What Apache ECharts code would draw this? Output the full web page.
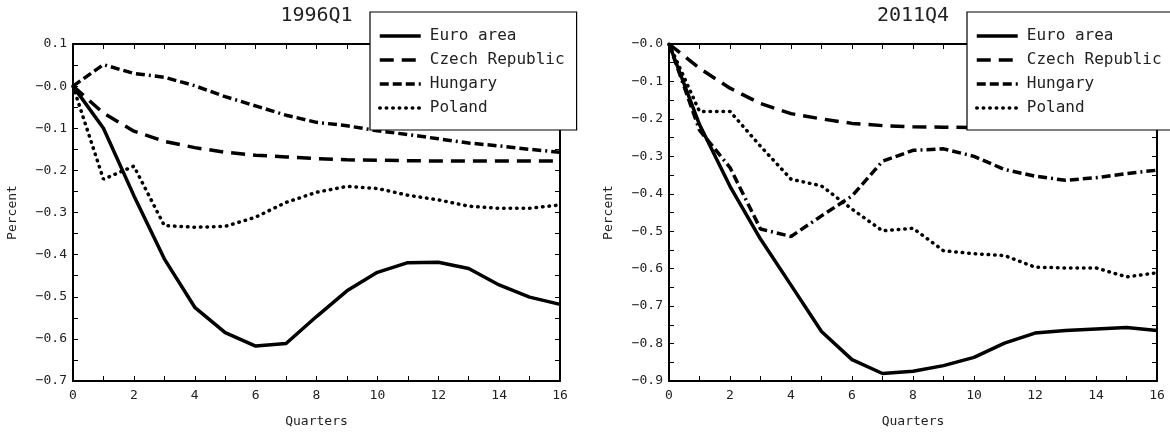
<!DOCTYPE html>
<html>
<head>
<meta charset="utf-8">
<script src="https://cdn.jsdelivr.net/npm/echarts@6/dist/echarts.min.js"></script>
<style>
html,body{margin:0;padding:0;background:#fff;}
#chart{width:1170px;height:433px;}
</style>
</head>
<body>
<div id="chart"></div>
<script>
// ---- Data ----
const quarters = [0,1,2,3,4,5,6,7,8,9,10,11,12,13,14,15,16];
const seriesNames = ['Euro area','Czech Republic','Hungary','Poland'];
const panelTitles = ['1996Q1','2011Q4'];

const euro1996   = [0,-0.10,-0.26,-0.41,-0.525,-0.585,-0.617,-0.611,-0.547,-0.486,-0.442,-0.419,-0.418,-0.433,-0.472,-0.501,-0.518];
const czech1996  = [0,-0.064,-0.107,-0.131,-0.146,-0.157,-0.164,-0.168,-0.172,-0.175,-0.176,-0.177,-0.178,-0.178,-0.178,-0.178,-0.178];
const hungary1996= [0,0.051,0.030,0.021,0.001,-0.025,-0.047,-0.069,-0.086,-0.094,-0.106,-0.115,-0.125,-0.135,-0.142,-0.150,-0.157];
const poland1996 = [0,-0.221,-0.19,-0.331,-0.335,-0.333,-0.311,-0.276,-0.252,-0.238,-0.243,-0.259,-0.270,-0.285,-0.290,-0.290,-0.282];

const euro2011   = [0,-0.215,-0.38,-0.521,-0.644,-0.768,-0.843,-0.880,-0.874,-0.859,-0.837,-0.799,-0.772,-0.765,-0.761,-0.757,-0.765];
const czech2011  = [0,-0.065,-0.118,-0.159,-0.186,-0.200,-0.212,-0.218,-0.221,-0.222,-0.223,-0.223,-0.223,-0.223,-0.223,-0.223,-0.223];
const hungary2011= [0,-0.23,-0.33,-0.494,-0.514,-0.459,-0.406,-0.313,-0.284,-0.280,-0.300,-0.335,-0.353,-0.364,-0.357,-0.346,-0.337];
const poland2011 = [0,-0.18,-0.18,-0.273,-0.361,-0.379,-0.441,-0.499,-0.492,-0.552,-0.560,-0.565,-0.596,-0.598,-0.598,-0.622,-0.611];

const yRanges = [[-0.7,0.1],[-0.9,0]];

// ---- Styling ----
const FONT = 'DejaVu Sans Mono';
const TXT = '#222';
const lineTypes = [
  {type:'solid', cap:'butt'},
  {type:[14,8], cap:'butt'},
  {type:[9,4,9,4,9,4,2,4], cap:'butt'},
  {type:[0.5,6], cap:'round'}
];
const panels = [
  {grid:{left:73, top:44, width:487, height:339}, data:[euro1996,czech1996,hungary1996,poland1996], center:316.5, legendLeft:370},
  {grid:{left:669, top:44, width:488, height:339}, data:[euro2011,czech2011,hungary2011,poland2011], center:913, legendLeft:967}
];

function fmtY(v){
  const s = Math.abs(v).toFixed(1);
  return (v < 0.05 ? '\u2212' : '') + s;
}

const tickCommon = {
  axisLine:{show:true, onZero:false, lineStyle:{color:'#000', width:2}},
  axisTick:{show:true, inside:true, length:5, lineStyle:{color:'#000', width:1}},
  minorTick:{show:true, splitNumber:2, length:5, lineStyle:{color:'#000', width:1}},
  splitLine:{show:false},
  minorSplitLine:{show:false}
};

const grids = [], xAxes = [], yAxes = [], series = [], titles = [], legends = [];
panels.forEach((p, i) => {
  grids.push(Object.assign({show:false}, p.grid));
  xAxes.push(Object.assign({
    gridIndex:i, type:'value', min:0, max:16, interval:2, position:'bottom',
    axisLabel:{fontFamily:FONT, fontSize:13, color:TXT, margin:8},
    name:'Quarters', nameLocation:'middle', nameGap:34,
    nameTextStyle:{fontFamily:FONT, fontSize:13, color:TXT}
  }, tickCommon));
  xAxes.push(Object.assign({
    gridIndex:i, type:'value', min:0, max:16, interval:2, position:'top',
    axisLabel:{show:false}
  }, tickCommon));
  yAxes.push(Object.assign({
    gridIndex:i, type:'value', min:yRanges[i][0], max:yRanges[i][1], interval:0.1, position:'left',
    axisLabel:{fontFamily:FONT, fontSize:13, color:TXT, margin:6, formatter:fmtY},
    name:'Percent', nameLocation:'middle', nameGap:54,
    nameTextStyle:{fontFamily:FONT, fontSize:13, color:TXT}
  }, tickCommon));
  yAxes.push(Object.assign({
    gridIndex:i, type:'value', min:yRanges[i][0], max:yRanges[i][1], interval:0.1, position:'right',
    axisLabel:{show:false}
  }, tickCommon));
  p.data.forEach((arr, k) => {
    series.push({
      name: seriesNames[k], type:'line', xAxisIndex:i*2, yAxisIndex:i*2,
      data: quarters.map((q, j) => [q, arr[j]]),
      symbol:'none', showSymbol:false, smooth:false,
      lineStyle:{color:'#000', width:3.5, type:lineTypes[k].type, cap:lineTypes[k].cap},
      itemStyle:{color:'#000'},
      z: 2
    });
  });
  titles.push({
    text: panelTitles[i], left:p.center, top:6, textAlign:'center', padding:0,
    textStyle:{fontFamily:FONT, fontSize:20, fontWeight:'normal', color:TXT}
  });
  legends.push({
    data: seriesNames.slice(), orient:'vertical', left:p.legendLeft, top:12,
    backgroundColor:'#fff', borderColor:'#000', borderWidth:1.2, borderRadius:0,
    padding:[16,12,14,8], itemGap:8, itemWidth:41, itemHeight:14,
    selectedMode:false,
    itemStyle:{opacity:0, borderWidth:0},
    lineStyle:{width:3.5},
    textStyle:{fontFamily:FONT, fontSize:16, color:TXT, padding:[0,0,0,4]},
    z: 10
  });
});

const chart = echarts.init(document.getElementById('chart'), null, {renderer:'canvas'});
chart.setOption({
  animation:false,
  backgroundColor:'#fff',
  title: titles,
  legend: legends,
  grid: grids,
  xAxis: xAxes,
  yAxis: yAxes,
  series: series
});
</script>
</body>
</html>
